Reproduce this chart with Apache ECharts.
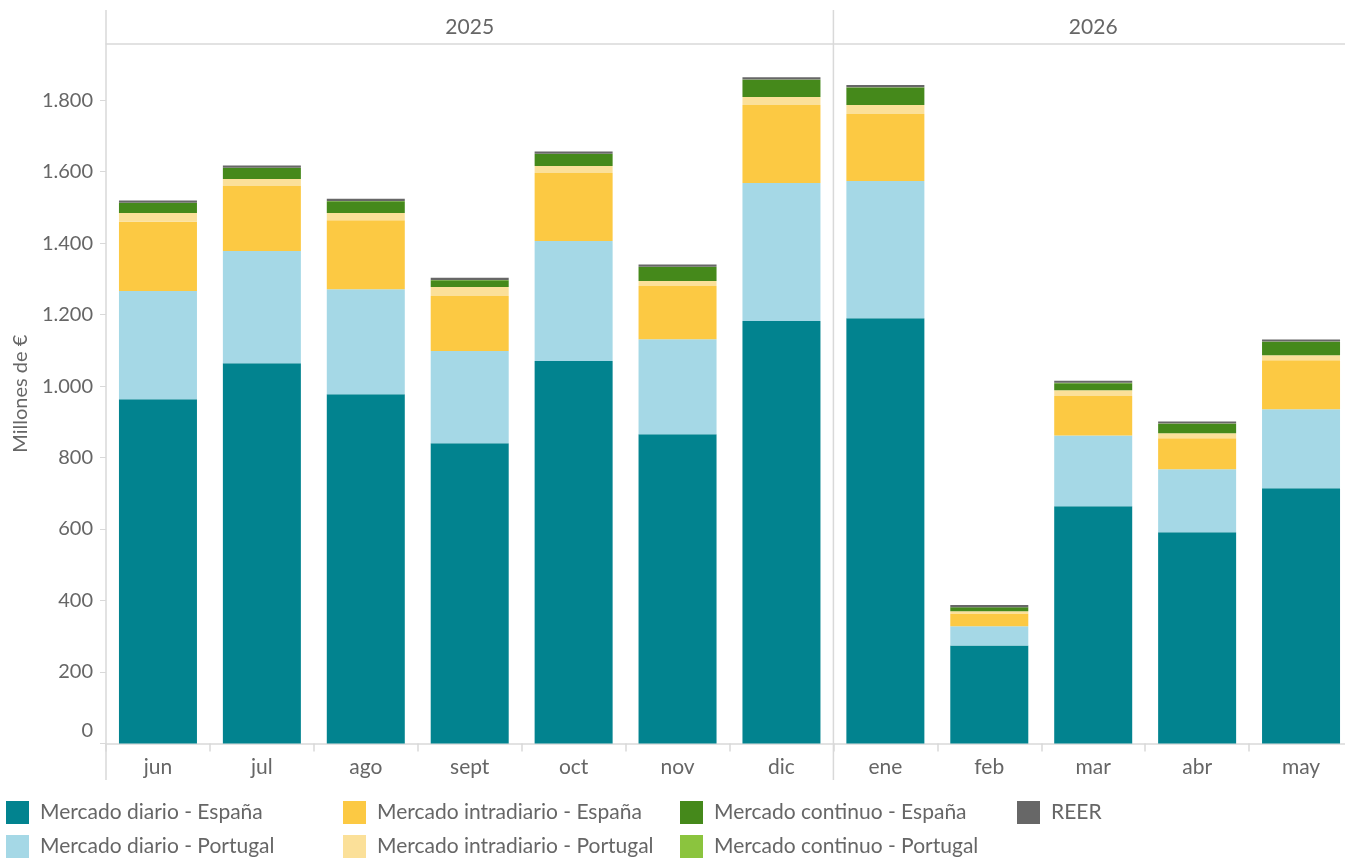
<!DOCTYPE html>
<html>
<head>
<meta charset="utf-8">
<script src="https://cdn.jsdelivr.net/npm/echarts@6/dist/echarts.min.js"></script>
<style>
html, body { margin: 0; padding: 0; background: #fff; }
#myChart { width: 1345px; height: 859px; }
</style>
</head>
<body>
<div id="myChart"></div>
<script>
// meses (2025: jun-dic, 2026: ene-may)
const months = ['jun', 'jul', 'ago', 'sept', 'oct', 'nov', 'dic', 'ene', 'feb', 'mar', 'abr', 'may'];
const years = ['2025', '2026'];
const yTicks = [0, 200, 400, 600, 800, 1000, 1200, 1400, 1600, 1800];

// millones de €
const diarioES = [963, 1064, 977, 840, 1070, 865, 1182, 1190, 274, 664, 591, 714];
const diarioPT = [303, 314, 294, 258, 336, 266, 386, 384, 54, 198, 176, 221];
const intraES = [194, 182, 193, 154, 190, 149, 218, 187, 36, 110, 87, 137];
const intraPT = [24, 19, 20, 25, 20, 14, 23, 25, 6, 16, 14, 14];
const continuoES = [28, 31, 33, 19, 33, 39, 48, 49, 11, 20, 26, 38];
const continuoPT = [1, 1, 1, 1, 1, 1, 1, 1, 0.5, 1, 1, 1];
const reer = [6, 6, 6, 6, 6, 6, 6, 6, 6, 6, 6, 5];

const seriesDefs = [
  { name: 'Mercado diario - España', data: diarioES, color: '#02838f' },
  { name: 'Mercado diario - Portugal', data: diarioPT, color: '#a5d8e6' },
  { name: 'Mercado intradiario - España', data: intraES, color: '#fcc943' },
  { name: 'Mercado intradiario - Portugal', data: intraPT, color: '#fbe099' },
  { name: 'Mercado continuo - España', data: continuoES, color: '#45891b' },
  { name: 'Mercado continuo - Portugal', data: continuoPT, color: '#8bc43e' },
  { name: 'REER', data: reer, color: '#676767' }
];

const txt = '#666666';
const lineCol = '#d9d9d9';
const font = 'Lato';

function fmt(v) {
  return String(v).replace(/\B(?=(\d{3})+(?!\d))/g, '.');
}

// columnas de la leyenda
const legendCols = [
  ['Mercado diario - España', 'Mercado diario - Portugal'],
  ['Mercado intradiario - España', 'Mercado intradiario - Portugal'],
  ['Mercado continuo - España', 'Mercado continuo - Portugal'],
  ['REER']
];
const legendLeft = [6, 343, 680, 1017];

let myChart = echarts.init(document.getElementById('myChart'));

myChart.setOption({
  animation: false,
  textStyle: { fontFamily: font },
  grid: { left: 106, right: -8, top: 44, bottom: 115.5, outerBoundsMode: 'none', containLabel: false },
  legend: legendCols.map((d, i) => ({
    data: d,
    orient: 'vertical',
    left: legendLeft[i],
    top: 801,
    padding: 0,
    height: 70,
    icon: 'rect',
    itemWidth: 23,
    itemHeight: 23,
    itemGap: 11,
    selectedMode: false,
    textStyle: { color: txt, fontSize: 21, fontFamily: font, padding: [0, 0, 0, 6] }
  })),
  xAxis: [
    {
      type: 'category',
      data: months,
      position: 'bottom',
      axisLine: { lineStyle: { color: lineCol, width: 1.5 } },
      axisTick: { show: true, length: 8, lineStyle: { color: lineCol, width: 1.5 } },
      axisLabel: { color: txt, fontSize: 21, margin: 13 }
    },
    {
      // cabecera de años
      type: 'value',
      position: 'top',
      min: 0,
      max: 12,
      interval: 0.5,
      axisLine: { show: true, lineStyle: { color: lineCol, width: 1.5 } },
      axisTick: { show: false },
      splitLine: { show: false },
      axisLabel: {
        color: txt,
        fontSize: 21,
        margin: 6,
        formatter: v => (v === 3.5 ? years[0] : v === 9.5 ? years[1] : '')
      }
    }
  ],
  yAxis: {
    type: 'value',
    min: 0,
    max: 1957,
    interval: 200,
    name: 'Millones de €',
    nameLocation: 'middle',
    nameGap: 75,
    nameTextStyle: { color: txt, fontSize: 20 },
    axisLine: { show: false },
    axisTick: { show: true, length: 6, customValues: yTicks, lineStyle: { color: lineCol } },
    splitLine: { show: false },
    axisLabel: {
      color: txt,
      fontSize: 20,
      margin: 13,
      customValues: yTicks,
      formatter: v => (v === 0 ? '{z|0}' : fmt(v)),
      rich: { z: { color: txt, fontSize: 20, padding: [0, 0, 26, 0] } }
    }
  },
  series: seriesDefs.map(s => ({
    name: s.name,
    type: 'bar',
    stack: 'total',
    barWidth: 78,
    data: s.data,
    itemStyle: { color: s.color },
    emphasis: { disabled: true }
  }))
});

// líneas verticales de los paneles (izquierda y separación 2025/2026)
const yTop = 10;
const yBot = 780;
const xs = [0, 7].map(v => myChart.convertToPixel({ xAxisIndex: 1 }, v));
myChart.setOption({
  graphic: xs.map(x => ({
    type: 'line',
    shape: { x1: x, y1: yTop, x2: x, y2: yBot },
    style: { stroke: lineCol, lineWidth: 1.5 },
    z: 10
  }))
});
</script>
</body>
</html>
